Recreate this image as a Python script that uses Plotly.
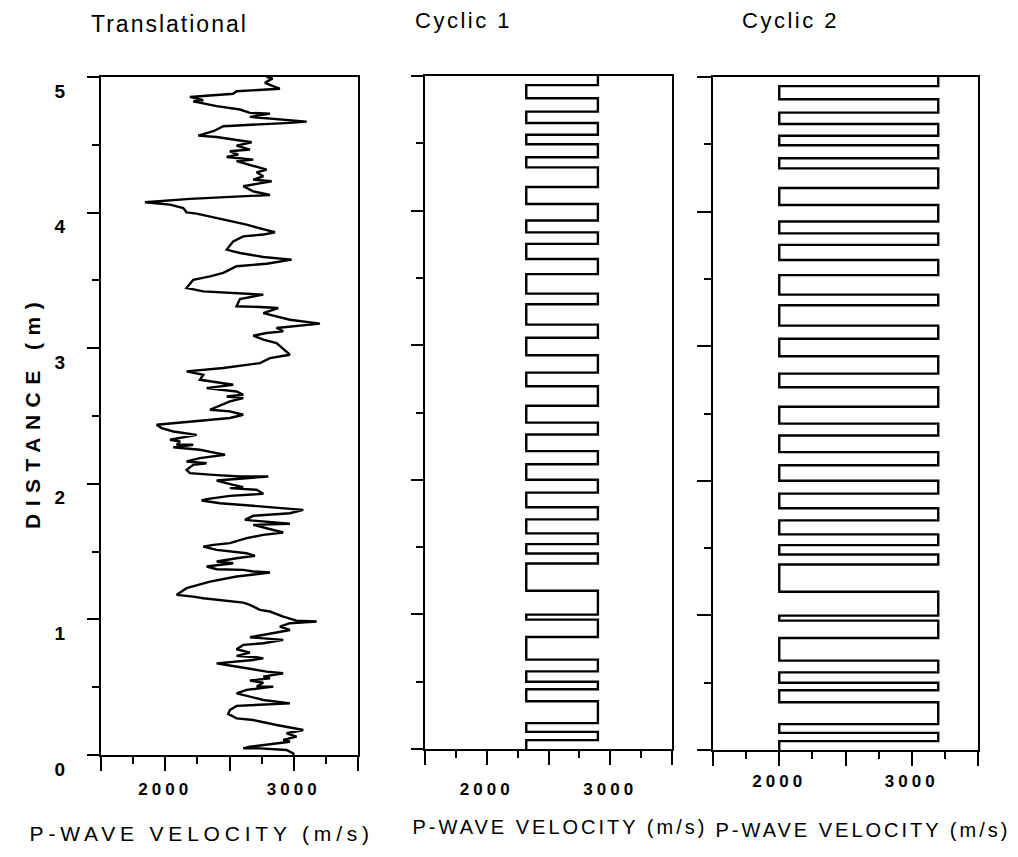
import plotly.graph_objects as go

# ---- Translational model: P-wave velocity log against distance ----
trans_depth = [
    5.00, 4.99, 4.957, 4.913, 4.895, 4.876, 4.858, 4.853, 4.829, 4.82, 4.785, 4.76,
    4.735, 4.73, 4.706, 4.681, 4.671, 4.662, 4.637, 4.60, 4.568, 4.558, 4.539, 4.526,
    4.519, 4.494, 4.465, 4.452, 4.428, 4.41, 4.391, 4.379, 4.329, 4.317, 4.297, 4.268,
    4.243, 4.231, 4.194, 4.157, 4.13, 4.115, 4.101, 4.076, 4.059, 4.034, 4.002, 3.992,
    3.948, 3.911, 3.874, 3.855, 3.838, 3.825, 3.788, 3.727, 3.714, 3.702, 3.673, 3.653,
    3.623, 3.604, 3.555, 3.53, 3.505, 3.444, 3.419, 3.407, 3.395, 3.363, 3.309, 3.304,
    3.296, 3.259, 3.21, 3.181, 3.161, 3.149, 3.124, 3.112, 3.092, 3.063, 3.038, 2.952,
    2.927, 2.89, 2.854, 2.829, 2.804, 2.767, 2.743, 2.73, 2.706, 2.681, 2.657, 2.644,
    2.632, 2.608, 2.546, 2.534, 2.509, 2.485, 2.435, 2.411, 2.386, 2.374, 2.361, 2.325,
    2.312, 2.288, 2.288, 2.27, 2.251, 2.226, 2.214, 2.189, 2.165, 2.152, 2.14, 2.103,
    2.079, 2.066, 2.054, 2.054, 2.024, 1.992, 1.975, 1.968, 1.956, 1.926, 1.911, 1.887,
    1.877, 1.857, 1.838, 1.82, 1.808, 1.783, 1.764, 1.734, 1.722, 1.705, 1.697, 1.665,
    1.641, 1.623, 1.599, 1.562, 1.55, 1.537, 1.513, 1.488, 1.469, 1.451, 1.427, 1.414,
    1.39, 1.37, 1.365, 1.353, 1.346, 1.316, 1.279, 1.23, 1.181, 1.168, 1.156, 1.124,
    1.107, 1.07, 1.058, 1.021, 0.991, 0.984, 0.972, 0.947, 0.922, 0.903, 0.868, 0.849,
    0.824, 0.812, 0.78, 0.755, 0.731, 0.721, 0.713, 0.701, 0.676, 0.664, 0.652, 0.615,
    0.603, 0.578, 0.566, 0.549, 0.534, 0.504, 0.504, 0.48, 0.455, 0.43, 0.406, 0.381,
    0.369, 0.362, 0.332, 0.303, 0.27, 0.258, 0.221, 0.197, 0.184, 0.16, 0.135, 0.111,
    0.098, 0.061, 0.049, 0.049, 0.037, 0.012, 0.0,
]
trans_velocity = [
    2788, 2835, 2776, 2892, 2555, 2529, 2270, 2192, 2296, 2218, 2400, 2581,
    2659, 2815, 2659, 2944, 3100, 2970, 2452, 2374, 2257, 2400, 2529, 2607,
    2672, 2555, 2659, 2503, 2568, 2478, 2685, 2555, 2763, 2789, 2711, 2763,
    2685, 2828, 2607, 2685, 2815, 2503, 2192, 1842, 2037, 2140, 2166, 2244,
    2452, 2633, 2776, 2854, 2763, 2607, 2529, 2478, 2529, 2581, 2763, 2983,
    2789, 2555, 2452, 2348, 2218, 2166, 2296, 2503, 2763, 2581, 2555, 2737,
    2879, 2763, 2970, 3204, 3022, 2866, 2918, 2789, 2685, 2763, 2866, 2970,
    2815, 2737, 2452, 2166, 2296, 2270, 2439, 2529, 2322, 2555, 2607, 2478,
    2607, 2503, 2348, 2503, 2607, 2503, 1933, 1972, 2063, 2140, 2244, 2037,
    2115, 2089, 2218, 2063, 2270, 2400, 2465, 2270, 2166, 2322, 2218, 2166,
    2192, 2374, 2581, 2802, 2400, 2529, 2607, 2503, 2711, 2763, 2503, 2322,
    2283, 2426, 2659, 2867, 3074, 2970, 2685, 2620, 2763, 2970, 2685, 2815,
    2918, 2763, 2633, 2503, 2374, 2296, 2400, 2633, 2698, 2555, 2400, 2529,
    2322, 2400, 2607, 2685, 2815, 2555, 2348, 2166, 2089, 2218, 2296, 2607,
    2659, 2737, 2815, 2918, 3022, 3178, 2970, 2892, 2970, 2867, 2659, 2918,
    2763, 2607, 2555, 2659, 2555, 2711, 2763, 2685, 2400, 2478, 2555, 2789,
    2918, 2763, 2815, 2659, 2763, 2711, 2841, 2633, 2555, 2659, 2763, 2970,
    2737, 2555, 2503, 2490, 2555, 2685, 2867, 2996, 3074, 2944, 3022, 2918,
    2970, 2659, 2607, 2737, 2944, 2996, 2996,
]

# ---- Cyclic models: both share the same layer interfaces (m, top down) ----
cyclic_interfaces = [
    4.932, 4.835, 4.735, 4.651, 4.563, 4.493, 4.396, 4.321, 4.175, 4.049,
    3.927, 3.838, 3.753, 3.640, 3.528, 3.383, 3.304, 3.153, 3.055, 2.925,
    2.796, 2.695, 2.550, 2.425, 2.337, 2.213, 2.116, 2.000, 1.905, 1.796,
    1.706, 1.602, 1.522, 1.452, 1.378, 1.176, 0.998, 0.961, 0.832, 0.664,
    0.577, 0.500, 0.444, 0.355, 0.192, 0.127, 0.066,
]
# (fast, slow) layer velocities, the top layer being fast
cyclic1_velocity = [2900, 2320]
cyclic2_velocity = [3200, 2000]

# ---- axis labelling ----
depth_range = [0, 5]
depth_ticks = [0, 1, 2, 3, 4, 5]
depth_minor = [0.5, 1.5, 2.5, 3.5, 4.5]
vel_range = [1500, 3500]
vel_ticks = [1500, 2000, 2500, 3000, 3500]
vel_ticktext = ["", "2000", "", "3000", ""]
vel_minor = [1750, 2250, 2750, 3250]

panel_titles = ["Translational", "Cyclic 1", "Cyclic 2"]
x_title = "P-WAVE VELOCITY (m/s)"
y_title = "DISTANCE (m)"


def layered_profile(interfaces, fast_slow, top, bottom):
    """Blocky velocity-depth profile for alternating fast/slow layers."""
    bounds = [top] + list(interfaces) + [bottom]
    depth, vel = [], []
    for i in range(len(bounds) - 1):
        v = fast_slow[i % 2]
        depth += [bounds[i], bounds[i + 1]]
        vel += [v, v]
    return depth, vel


W, H = 1018, 857
FONT = "Liberation Sans, Arial, Helvetica, sans-serif"


def px_x(a, b):
    return [a / W, b / W]


def px_y(bottom, top):
    return [(H - bottom) / H, (H - top) / H]


fig = go.Figure()
line = dict(color="black", width=2.4)

fig.add_trace(go.Scatter(x=trans_velocity, y=trans_depth, mode="lines",
                         line=line, xaxis="x", yaxis="y", showlegend=False))
d1, v1 = layered_profile(cyclic_interfaces, cyclic1_velocity, 5.0, 0.0)
fig.add_trace(go.Scatter(x=v1, y=d1, mode="lines", line=line,
                         xaxis="x2", yaxis="y2", showlegend=False))
d2, v2 = layered_profile(cyclic_interfaces, cyclic2_velocity, 5.0, 0.0)
fig.add_trace(go.Scatter(x=v2, y=d2, mode="lines", line=line,
                         xaxis="x3", yaxis="y3", showlegend=False))

common = dict(showline=True, linecolor="black", linewidth=2, mirror=True,
              ticks="outside", tickcolor="black", tickwidth=2, automargin=False,
              showgrid=False, zeroline=False, fixedrange=True)


def xaxis(domain, anchor, standoff):
    return dict(common, domain=domain, anchor=anchor, range=vel_range,
                tickmode="array", tickvals=vel_ticks, ticktext=vel_ticktext,
                ticklen=14, ticklabelstandoff=standoff,
                tickfont=dict(family=FONT, size=17, color="black", weight="bold"),
                minor=dict(tickmode="array", tickvals=vel_minor, ticks="outside",
                           ticklen=7, tickwidth=1.5, tickcolor="black"))


def yaxis(domain, anchor, labels, ticklen):
    return dict(common, domain=domain, anchor=anchor, range=depth_range,
                tickmode="array", tickvals=depth_ticks,
                showticklabels=labels, ticklen=ticklen,
                ticklabelstandoff=18, ticklabelshift=14,
                tickfont=dict(family=FONT, size=19, color="black", weight="bold"),
                minor=dict(tickmode="array", tickvals=depth_minor, ticks="outside",
                           ticklen=7, tickwidth=1.5, tickcolor="black"))


fig.update_layout(
    width=W, height=H, margin=dict(l=0, r=0, t=0, b=0, autoexpand=False),
    paper_bgcolor="white", plot_bgcolor="white",
    xaxis=xaxis(px_x(101, 358), "y", 4),
    xaxis2=xaxis(px_x(425, 672), "y2", 10),
    xaxis3=xaxis(px_x(713, 978), "y3", 1),
    yaxis=yaxis(px_y(755, 77), "x", True, 12),
    yaxis2=yaxis(px_y(749, 76), "x2", False, 12),
    yaxis3=yaxis(px_y(750, 77), "x3", False, 14),
)

annotations = [
    # panel titles
    dict(text=panel_titles[0], x=169, y=24, size=23, bold=False),
    dict(text=panel_titles[1], x=463, y=21, size=22, bold=False),
    dict(text=panel_titles[2], x=790, y=21, size=22, bold=False),
    # axis titles
    dict(text=y_title, x=33, y=412, size=21, angle=-90, bold=True),
    dict(text=x_title, x=201, y=833, size=21, bold=False),
    dict(text=x_title, x=560, y=827, size=20, bold=False),
    dict(text=x_title, x=863, y=830, size=20, bold=False),
]
spacing = {0: 2, 1: 2.5, 2: 2.5, 3: 7.5, 4: 4.8, 5: 3, 6: 3}

fig.update_layout(annotations=[
    dict(text=a["text"], x=a["x"] / W, y=(H - a["y"]) / H,
         xref="paper", yref="paper", xanchor="center", yanchor="middle",
         showarrow=False, textangle=a.get("angle", 0),
         font=dict(family=FONT, size=a["size"], color="black",
                   weight="bold" if a["bold"] else "normal"))
    for a in annotations
])

# widen the letter spacing of the lettering, as in typewritten plot labels
post_script = """
var gd = document.getElementById('{plot_id}');
var spacing = %s;
gd.querySelectorAll('g.annotation').forEach(function (g) {
  var s = spacing[g.getAttribute('data-index')];
  var t = g.querySelector('text');
  if (t && s) { t.style.letterSpacing = s + 'px'; }
});
gd.querySelectorAll('g.xtick text, g.x2tick text, g.x3tick text').forEach(function (t) {
  t.style.letterSpacing = '4px';
});
""" % ("{" + ", ".join('"%d": %s' % (k, v) for k, v in spacing.items()) + "}")

fig.write_html("out.html", post_script=post_script)
